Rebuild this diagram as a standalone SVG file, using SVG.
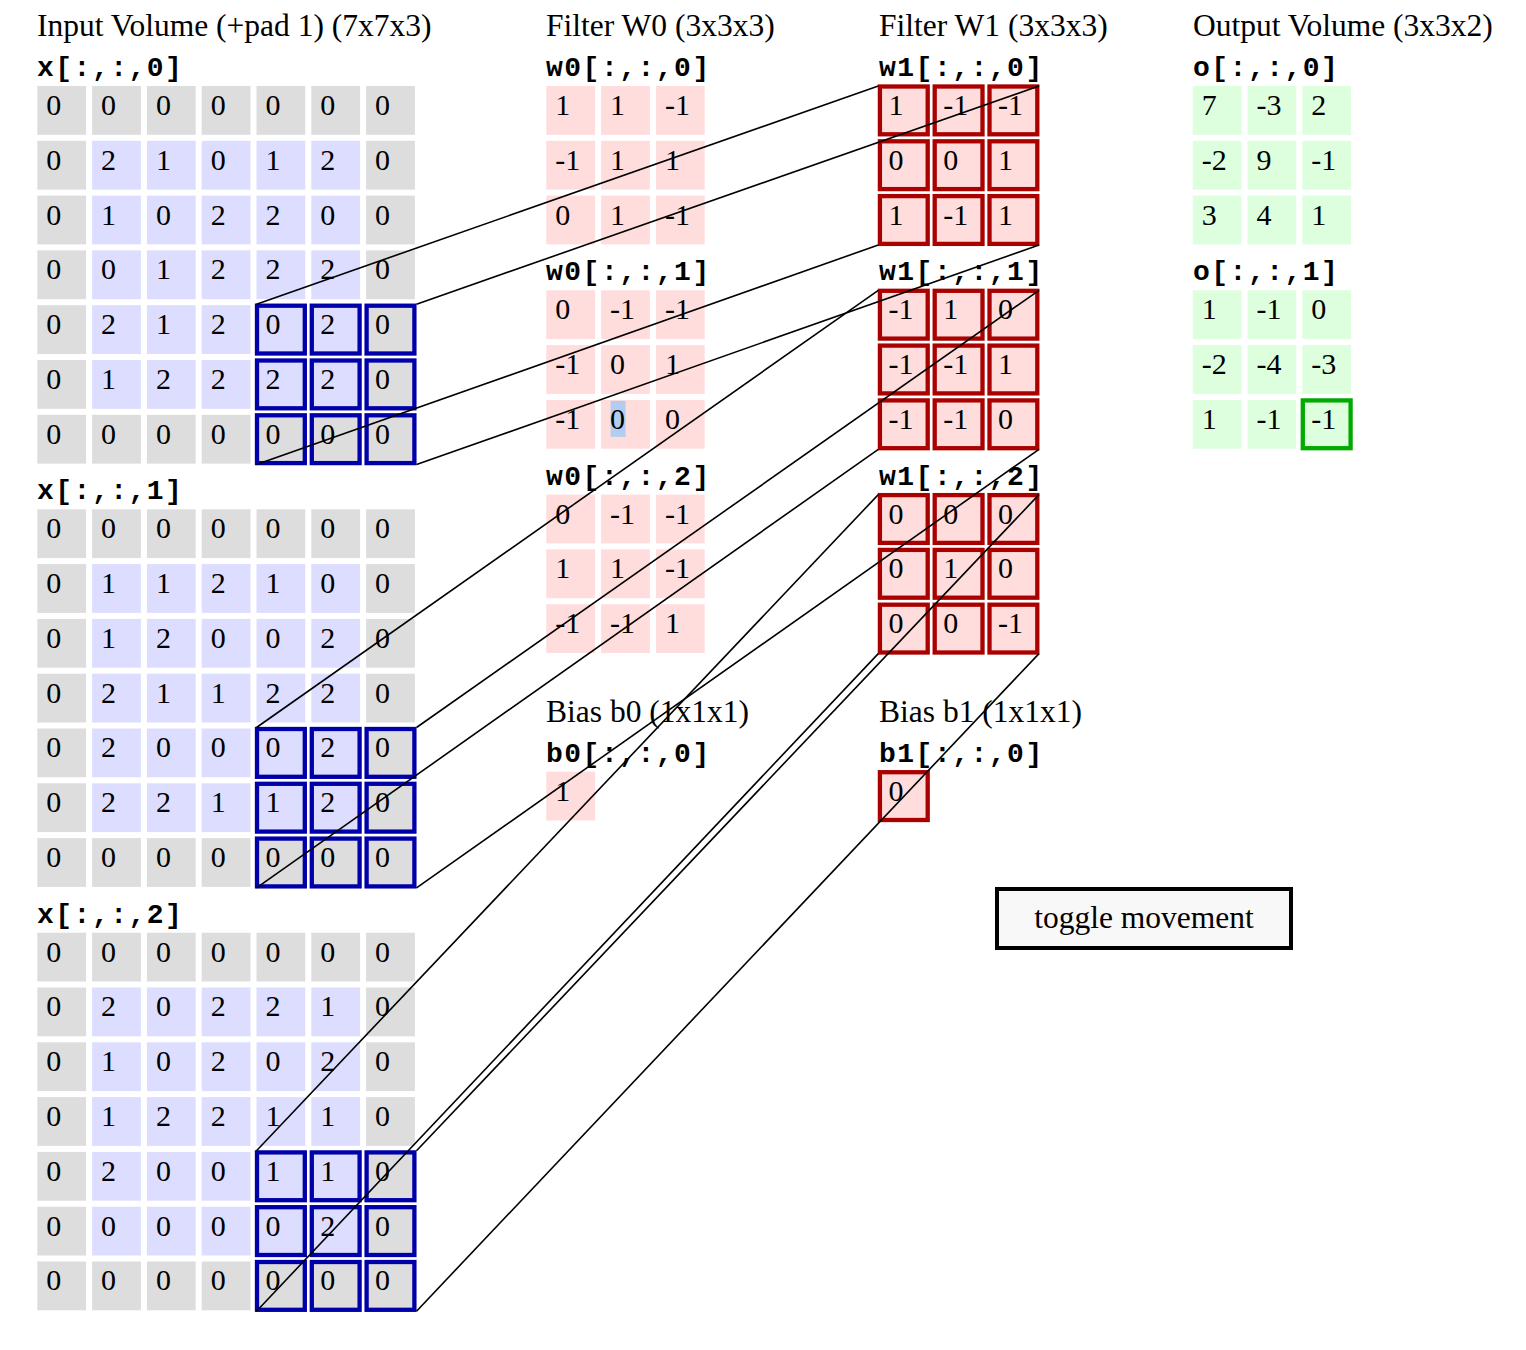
<svg xmlns="http://www.w3.org/2000/svg" width="1526" height="1350" viewBox="0 0 1526 1350">
<style>
text{font-family:"Liberation Serif","Times New Roman",serif;font-size:30px;fill:#000}
.h{font-size:31.5px}
.m{font-family:"Liberation Mono","Courier New",monospace;font-weight:bold;font-size:28px;letter-spacing:1.5px}
.p{fill:#dddddd}
.v{fill:#ddddff}
.w{fill:#ffdddd}
.o{fill:#ddffdd}
.hb{fill:none;stroke:#0000aa;stroke-width:4.3}
.hr{fill:none;stroke:#aa0000;stroke-width:4.3}
.hg{fill:none;stroke:#00aa00;stroke-width:4.3}
.c line{stroke:#000;stroke-width:1.6}
</style>
<rect width="1526" height="1350" fill="#fff"/>
<g id="titles">
<text class="h" x="37" y="36">Input Volume (+pad 1) (7x7x3)</text>
<text class="h" x="546" y="36">Filter W0 (3x3x3)</text>
<text class="h" x="879" y="36">Filter W1 (3x3x3)</text>
<text class="h" x="1193" y="36">Output Volume (3x3x2)</text>
<text class="h" x="546" y="721.7">Bias b0 (1x1x1)</text>
<text class="h" x="879" y="721.7">Bias b1 (1x1x1)</text>
<text class="m" x="37" y="76">x[:,:,0]</text>
<text class="m" x="37" y="499.3">x[:,:,1]</text>
<text class="m" x="37" y="922.7">x[:,:,2]</text>
<text class="m" x="546" y="76">w0[:,:,0]</text>
<text class="m" x="546" y="280.3">w0[:,:,1]</text>
<text class="m" x="546" y="484.6">w0[:,:,2]</text>
<text class="m" x="879" y="76">w1[:,:,0]</text>
<text class="m" x="879" y="280.3">w1[:,:,1]</text>
<text class="m" x="879" y="484.6">w1[:,:,2]</text>
<text class="m" x="1193" y="76">o[:,:,0]</text>
<text class="m" x="1193" y="280.3">o[:,:,1]</text>
<text class="m" x="546" y="761.7">b0[:,:,0]</text>
<text class="m" x="879" y="761.7">b1[:,:,0]</text>
</g>
<g id="x0" transform="translate(37.3,86)">
<rect class="p" x="0" y="0" width="48.8" height="48.8"/><rect class="p" x="54.8" y="0" width="48.8" height="48.8"/><rect class="p" x="109.6" y="0" width="48.8" height="48.8"/><rect class="p" x="164.4" y="0" width="48.8" height="48.8"/><rect class="p" x="219.2" y="0" width="48.8" height="48.8"/><rect class="p" x="274" y="0" width="48.8" height="48.8"/><rect class="p" x="328.8" y="0" width="48.8" height="48.8"/>
<rect class="p" x="0" y="54.8" width="48.8" height="48.8"/><rect class="v" x="54.8" y="54.8" width="48.8" height="48.8"/><rect class="v" x="109.6" y="54.8" width="48.8" height="48.8"/><rect class="v" x="164.4" y="54.8" width="48.8" height="48.8"/><rect class="v" x="219.2" y="54.8" width="48.8" height="48.8"/><rect class="v" x="274" y="54.8" width="48.8" height="48.8"/><rect class="p" x="328.8" y="54.8" width="48.8" height="48.8"/>
<rect class="p" x="0" y="109.6" width="48.8" height="48.8"/><rect class="v" x="54.8" y="109.6" width="48.8" height="48.8"/><rect class="v" x="109.6" y="109.6" width="48.8" height="48.8"/><rect class="v" x="164.4" y="109.6" width="48.8" height="48.8"/><rect class="v" x="219.2" y="109.6" width="48.8" height="48.8"/><rect class="v" x="274" y="109.6" width="48.8" height="48.8"/><rect class="p" x="328.8" y="109.6" width="48.8" height="48.8"/>
<rect class="p" x="0" y="164.4" width="48.8" height="48.8"/><rect class="v" x="54.8" y="164.4" width="48.8" height="48.8"/><rect class="v" x="109.6" y="164.4" width="48.8" height="48.8"/><rect class="v" x="164.4" y="164.4" width="48.8" height="48.8"/><rect class="v" x="219.2" y="164.4" width="48.8" height="48.8"/><rect class="v" x="274" y="164.4" width="48.8" height="48.8"/><rect class="p" x="328.8" y="164.4" width="48.8" height="48.8"/>
<rect class="p" x="0" y="219.2" width="48.8" height="48.8"/><rect class="v" x="54.8" y="219.2" width="48.8" height="48.8"/><rect class="v" x="109.6" y="219.2" width="48.8" height="48.8"/><rect class="v" x="164.4" y="219.2" width="48.8" height="48.8"/><rect class="v" x="219.2" y="219.2" width="48.8" height="48.8"/><rect class="v" x="274" y="219.2" width="48.8" height="48.8"/><rect class="p" x="328.8" y="219.2" width="48.8" height="48.8"/>
<rect class="p" x="0" y="274" width="48.8" height="48.8"/><rect class="v" x="54.8" y="274" width="48.8" height="48.8"/><rect class="v" x="109.6" y="274" width="48.8" height="48.8"/><rect class="v" x="164.4" y="274" width="48.8" height="48.8"/><rect class="v" x="219.2" y="274" width="48.8" height="48.8"/><rect class="v" x="274" y="274" width="48.8" height="48.8"/><rect class="p" x="328.8" y="274" width="48.8" height="48.8"/>
<rect class="p" x="0" y="328.8" width="48.8" height="48.8"/><rect class="p" x="54.8" y="328.8" width="48.8" height="48.8"/><rect class="p" x="109.6" y="328.8" width="48.8" height="48.8"/><rect class="p" x="164.4" y="328.8" width="48.8" height="48.8"/><rect class="p" x="219.2" y="328.8" width="48.8" height="48.8"/><rect class="p" x="274" y="328.8" width="48.8" height="48.8"/><rect class="p" x="328.8" y="328.8" width="48.8" height="48.8"/>
<rect class="hb" x="219.7" y="219.7" width="47.8" height="47.8"/><rect class="hb" x="274.5" y="219.7" width="47.8" height="47.8"/><rect class="hb" x="329.3" y="219.7" width="47.8" height="47.8"/>
<rect class="hb" x="219.7" y="274.5" width="47.8" height="47.8"/><rect class="hb" x="274.5" y="274.5" width="47.8" height="47.8"/><rect class="hb" x="329.3" y="274.5" width="47.8" height="47.8"/>
<rect class="hb" x="219.7" y="329.3" width="47.8" height="47.8"/><rect class="hb" x="274.5" y="329.3" width="47.8" height="47.8"/><rect class="hb" x="329.3" y="329.3" width="47.8" height="47.8"/>
<text x="9" y="29">0</text><text x="63.8" y="29">0</text><text x="118.6" y="29">0</text><text x="173.4" y="29">0</text><text x="228.2" y="29">0</text><text x="283" y="29">0</text><text x="337.8" y="29">0</text>
<text x="9" y="83.8">0</text><text x="63.8" y="83.8">2</text><text x="118.6" y="83.8">1</text><text x="173.4" y="83.8">0</text><text x="228.2" y="83.8">1</text><text x="283" y="83.8">2</text><text x="337.8" y="83.8">0</text>
<text x="9" y="138.6">0</text><text x="63.8" y="138.6">1</text><text x="118.6" y="138.6">0</text><text x="173.4" y="138.6">2</text><text x="228.2" y="138.6">2</text><text x="283" y="138.6">0</text><text x="337.8" y="138.6">0</text>
<text x="9" y="193.4">0</text><text x="63.8" y="193.4">0</text><text x="118.6" y="193.4">1</text><text x="173.4" y="193.4">2</text><text x="228.2" y="193.4">2</text><text x="283" y="193.4">2</text><text x="337.8" y="193.4">0</text>
<text x="9" y="248.2">0</text><text x="63.8" y="248.2">2</text><text x="118.6" y="248.2">1</text><text x="173.4" y="248.2">2</text><text x="228.2" y="248.2">0</text><text x="283" y="248.2">2</text><text x="337.8" y="248.2">0</text>
<text x="9" y="303">0</text><text x="63.8" y="303">1</text><text x="118.6" y="303">2</text><text x="173.4" y="303">2</text><text x="228.2" y="303">2</text><text x="283" y="303">2</text><text x="337.8" y="303">0</text>
<text x="9" y="357.8">0</text><text x="63.8" y="357.8">0</text><text x="118.6" y="357.8">0</text><text x="173.4" y="357.8">0</text><text x="228.2" y="357.8">0</text><text x="283" y="357.8">0</text><text x="337.8" y="357.8">0</text>
</g>
<g id="x1" transform="translate(37.3,509.3)">
<rect class="p" x="0" y="0" width="48.8" height="48.8"/><rect class="p" x="54.8" y="0" width="48.8" height="48.8"/><rect class="p" x="109.6" y="0" width="48.8" height="48.8"/><rect class="p" x="164.4" y="0" width="48.8" height="48.8"/><rect class="p" x="219.2" y="0" width="48.8" height="48.8"/><rect class="p" x="274" y="0" width="48.8" height="48.8"/><rect class="p" x="328.8" y="0" width="48.8" height="48.8"/>
<rect class="p" x="0" y="54.8" width="48.8" height="48.8"/><rect class="v" x="54.8" y="54.8" width="48.8" height="48.8"/><rect class="v" x="109.6" y="54.8" width="48.8" height="48.8"/><rect class="v" x="164.4" y="54.8" width="48.8" height="48.8"/><rect class="v" x="219.2" y="54.8" width="48.8" height="48.8"/><rect class="v" x="274" y="54.8" width="48.8" height="48.8"/><rect class="p" x="328.8" y="54.8" width="48.8" height="48.8"/>
<rect class="p" x="0" y="109.6" width="48.8" height="48.8"/><rect class="v" x="54.8" y="109.6" width="48.8" height="48.8"/><rect class="v" x="109.6" y="109.6" width="48.8" height="48.8"/><rect class="v" x="164.4" y="109.6" width="48.8" height="48.8"/><rect class="v" x="219.2" y="109.6" width="48.8" height="48.8"/><rect class="v" x="274" y="109.6" width="48.8" height="48.8"/><rect class="p" x="328.8" y="109.6" width="48.8" height="48.8"/>
<rect class="p" x="0" y="164.4" width="48.8" height="48.8"/><rect class="v" x="54.8" y="164.4" width="48.8" height="48.8"/><rect class="v" x="109.6" y="164.4" width="48.8" height="48.8"/><rect class="v" x="164.4" y="164.4" width="48.8" height="48.8"/><rect class="v" x="219.2" y="164.4" width="48.8" height="48.8"/><rect class="v" x="274" y="164.4" width="48.8" height="48.8"/><rect class="p" x="328.8" y="164.4" width="48.8" height="48.8"/>
<rect class="p" x="0" y="219.2" width="48.8" height="48.8"/><rect class="v" x="54.8" y="219.2" width="48.8" height="48.8"/><rect class="v" x="109.6" y="219.2" width="48.8" height="48.8"/><rect class="v" x="164.4" y="219.2" width="48.8" height="48.8"/><rect class="v" x="219.2" y="219.2" width="48.8" height="48.8"/><rect class="v" x="274" y="219.2" width="48.8" height="48.8"/><rect class="p" x="328.8" y="219.2" width="48.8" height="48.8"/>
<rect class="p" x="0" y="274" width="48.8" height="48.8"/><rect class="v" x="54.8" y="274" width="48.8" height="48.8"/><rect class="v" x="109.6" y="274" width="48.8" height="48.8"/><rect class="v" x="164.4" y="274" width="48.8" height="48.8"/><rect class="v" x="219.2" y="274" width="48.8" height="48.8"/><rect class="v" x="274" y="274" width="48.8" height="48.8"/><rect class="p" x="328.8" y="274" width="48.8" height="48.8"/>
<rect class="p" x="0" y="328.8" width="48.8" height="48.8"/><rect class="p" x="54.8" y="328.8" width="48.8" height="48.8"/><rect class="p" x="109.6" y="328.8" width="48.8" height="48.8"/><rect class="p" x="164.4" y="328.8" width="48.8" height="48.8"/><rect class="p" x="219.2" y="328.8" width="48.8" height="48.8"/><rect class="p" x="274" y="328.8" width="48.8" height="48.8"/><rect class="p" x="328.8" y="328.8" width="48.8" height="48.8"/>
<rect class="hb" x="219.7" y="219.7" width="47.8" height="47.8"/><rect class="hb" x="274.5" y="219.7" width="47.8" height="47.8"/><rect class="hb" x="329.3" y="219.7" width="47.8" height="47.8"/>
<rect class="hb" x="219.7" y="274.5" width="47.8" height="47.8"/><rect class="hb" x="274.5" y="274.5" width="47.8" height="47.8"/><rect class="hb" x="329.3" y="274.5" width="47.8" height="47.8"/>
<rect class="hb" x="219.7" y="329.3" width="47.8" height="47.8"/><rect class="hb" x="274.5" y="329.3" width="47.8" height="47.8"/><rect class="hb" x="329.3" y="329.3" width="47.8" height="47.8"/>
<text x="9" y="29">0</text><text x="63.8" y="29">0</text><text x="118.6" y="29">0</text><text x="173.4" y="29">0</text><text x="228.2" y="29">0</text><text x="283" y="29">0</text><text x="337.8" y="29">0</text>
<text x="9" y="83.8">0</text><text x="63.8" y="83.8">1</text><text x="118.6" y="83.8">1</text><text x="173.4" y="83.8">2</text><text x="228.2" y="83.8">1</text><text x="283" y="83.8">0</text><text x="337.8" y="83.8">0</text>
<text x="9" y="138.6">0</text><text x="63.8" y="138.6">1</text><text x="118.6" y="138.6">2</text><text x="173.4" y="138.6">0</text><text x="228.2" y="138.6">0</text><text x="283" y="138.6">2</text><text x="337.8" y="138.6">0</text>
<text x="9" y="193.4">0</text><text x="63.8" y="193.4">2</text><text x="118.6" y="193.4">1</text><text x="173.4" y="193.4">1</text><text x="228.2" y="193.4">2</text><text x="283" y="193.4">2</text><text x="337.8" y="193.4">0</text>
<text x="9" y="248.2">0</text><text x="63.8" y="248.2">2</text><text x="118.6" y="248.2">0</text><text x="173.4" y="248.2">0</text><text x="228.2" y="248.2">0</text><text x="283" y="248.2">2</text><text x="337.8" y="248.2">0</text>
<text x="9" y="303">0</text><text x="63.8" y="303">2</text><text x="118.6" y="303">2</text><text x="173.4" y="303">1</text><text x="228.2" y="303">1</text><text x="283" y="303">2</text><text x="337.8" y="303">0</text>
<text x="9" y="357.8">0</text><text x="63.8" y="357.8">0</text><text x="118.6" y="357.8">0</text><text x="173.4" y="357.8">0</text><text x="228.2" y="357.8">0</text><text x="283" y="357.8">0</text><text x="337.8" y="357.8">0</text>
</g>
<g id="x2" transform="translate(37.3,932.7)">
<rect class="p" x="0" y="0" width="48.8" height="48.8"/><rect class="p" x="54.8" y="0" width="48.8" height="48.8"/><rect class="p" x="109.6" y="0" width="48.8" height="48.8"/><rect class="p" x="164.4" y="0" width="48.8" height="48.8"/><rect class="p" x="219.2" y="0" width="48.8" height="48.8"/><rect class="p" x="274" y="0" width="48.8" height="48.8"/><rect class="p" x="328.8" y="0" width="48.8" height="48.8"/>
<rect class="p" x="0" y="54.8" width="48.8" height="48.8"/><rect class="v" x="54.8" y="54.8" width="48.8" height="48.8"/><rect class="v" x="109.6" y="54.8" width="48.8" height="48.8"/><rect class="v" x="164.4" y="54.8" width="48.8" height="48.8"/><rect class="v" x="219.2" y="54.8" width="48.8" height="48.8"/><rect class="v" x="274" y="54.8" width="48.8" height="48.8"/><rect class="p" x="328.8" y="54.8" width="48.8" height="48.8"/>
<rect class="p" x="0" y="109.6" width="48.8" height="48.8"/><rect class="v" x="54.8" y="109.6" width="48.8" height="48.8"/><rect class="v" x="109.6" y="109.6" width="48.8" height="48.8"/><rect class="v" x="164.4" y="109.6" width="48.8" height="48.8"/><rect class="v" x="219.2" y="109.6" width="48.8" height="48.8"/><rect class="v" x="274" y="109.6" width="48.8" height="48.8"/><rect class="p" x="328.8" y="109.6" width="48.8" height="48.8"/>
<rect class="p" x="0" y="164.4" width="48.8" height="48.8"/><rect class="v" x="54.8" y="164.4" width="48.8" height="48.8"/><rect class="v" x="109.6" y="164.4" width="48.8" height="48.8"/><rect class="v" x="164.4" y="164.4" width="48.8" height="48.8"/><rect class="v" x="219.2" y="164.4" width="48.8" height="48.8"/><rect class="v" x="274" y="164.4" width="48.8" height="48.8"/><rect class="p" x="328.8" y="164.4" width="48.8" height="48.8"/>
<rect class="p" x="0" y="219.2" width="48.8" height="48.8"/><rect class="v" x="54.8" y="219.2" width="48.8" height="48.8"/><rect class="v" x="109.6" y="219.2" width="48.8" height="48.8"/><rect class="v" x="164.4" y="219.2" width="48.8" height="48.8"/><rect class="v" x="219.2" y="219.2" width="48.8" height="48.8"/><rect class="v" x="274" y="219.2" width="48.8" height="48.8"/><rect class="p" x="328.8" y="219.2" width="48.8" height="48.8"/>
<rect class="p" x="0" y="274" width="48.8" height="48.8"/><rect class="v" x="54.8" y="274" width="48.8" height="48.8"/><rect class="v" x="109.6" y="274" width="48.8" height="48.8"/><rect class="v" x="164.4" y="274" width="48.8" height="48.8"/><rect class="v" x="219.2" y="274" width="48.8" height="48.8"/><rect class="v" x="274" y="274" width="48.8" height="48.8"/><rect class="p" x="328.8" y="274" width="48.8" height="48.8"/>
<rect class="p" x="0" y="328.8" width="48.8" height="48.8"/><rect class="p" x="54.8" y="328.8" width="48.8" height="48.8"/><rect class="p" x="109.6" y="328.8" width="48.8" height="48.8"/><rect class="p" x="164.4" y="328.8" width="48.8" height="48.8"/><rect class="p" x="219.2" y="328.8" width="48.8" height="48.8"/><rect class="p" x="274" y="328.8" width="48.8" height="48.8"/><rect class="p" x="328.8" y="328.8" width="48.8" height="48.8"/>
<rect class="hb" x="219.7" y="219.7" width="47.8" height="47.8"/><rect class="hb" x="274.5" y="219.7" width="47.8" height="47.8"/><rect class="hb" x="329.3" y="219.7" width="47.8" height="47.8"/>
<rect class="hb" x="219.7" y="274.5" width="47.8" height="47.8"/><rect class="hb" x="274.5" y="274.5" width="47.8" height="47.8"/><rect class="hb" x="329.3" y="274.5" width="47.8" height="47.8"/>
<rect class="hb" x="219.7" y="329.3" width="47.8" height="47.8"/><rect class="hb" x="274.5" y="329.3" width="47.8" height="47.8"/><rect class="hb" x="329.3" y="329.3" width="47.8" height="47.8"/>
<text x="9" y="29">0</text><text x="63.8" y="29">0</text><text x="118.6" y="29">0</text><text x="173.4" y="29">0</text><text x="228.2" y="29">0</text><text x="283" y="29">0</text><text x="337.8" y="29">0</text>
<text x="9" y="83.8">0</text><text x="63.8" y="83.8">2</text><text x="118.6" y="83.8">0</text><text x="173.4" y="83.8">2</text><text x="228.2" y="83.8">2</text><text x="283" y="83.8">1</text><text x="337.8" y="83.8">0</text>
<text x="9" y="138.6">0</text><text x="63.8" y="138.6">1</text><text x="118.6" y="138.6">0</text><text x="173.4" y="138.6">2</text><text x="228.2" y="138.6">0</text><text x="283" y="138.6">2</text><text x="337.8" y="138.6">0</text>
<text x="9" y="193.4">0</text><text x="63.8" y="193.4">1</text><text x="118.6" y="193.4">2</text><text x="173.4" y="193.4">2</text><text x="228.2" y="193.4">1</text><text x="283" y="193.4">1</text><text x="337.8" y="193.4">0</text>
<text x="9" y="248.2">0</text><text x="63.8" y="248.2">2</text><text x="118.6" y="248.2">0</text><text x="173.4" y="248.2">0</text><text x="228.2" y="248.2">1</text><text x="283" y="248.2">1</text><text x="337.8" y="248.2">0</text>
<text x="9" y="303">0</text><text x="63.8" y="303">0</text><text x="118.6" y="303">0</text><text x="173.4" y="303">0</text><text x="228.2" y="303">0</text><text x="283" y="303">2</text><text x="337.8" y="303">0</text>
<text x="9" y="357.8">0</text><text x="63.8" y="357.8">0</text><text x="118.6" y="357.8">0</text><text x="173.4" y="357.8">0</text><text x="228.2" y="357.8">0</text><text x="283" y="357.8">0</text><text x="337.8" y="357.8">0</text>
</g>
<g id="w0-0" transform="translate(546.3,86)">
<rect class="w" x="0" y="0" width="48.8" height="48.8"/><rect class="w" x="54.8" y="0" width="48.8" height="48.8"/><rect class="w" x="109.6" y="0" width="48.8" height="48.8"/>
<rect class="w" x="0" y="54.8" width="48.8" height="48.8"/><rect class="w" x="54.8" y="54.8" width="48.8" height="48.8"/><rect class="w" x="109.6" y="54.8" width="48.8" height="48.8"/>
<rect class="w" x="0" y="109.6" width="48.8" height="48.8"/><rect class="w" x="54.8" y="109.6" width="48.8" height="48.8"/><rect class="w" x="109.6" y="109.6" width="48.8" height="48.8"/>
<text x="9" y="29">1</text><text x="63.8" y="29">1</text><text x="118.6" y="29">-1</text>
<text x="9" y="83.8">-1</text><text x="63.8" y="83.8">1</text><text x="118.6" y="83.8">1</text>
<text x="9" y="138.6">0</text><text x="63.8" y="138.6">1</text><text x="118.6" y="138.6">-1</text>
</g>
<g id="w0-1" transform="translate(546.3,290.3)">
<rect class="w" x="0" y="0" width="48.8" height="48.8"/><rect class="w" x="54.8" y="0" width="48.8" height="48.8"/><rect class="w" x="109.6" y="0" width="48.8" height="48.8"/>
<rect class="w" x="0" y="54.8" width="48.8" height="48.8"/><rect class="w" x="54.8" y="54.8" width="48.8" height="48.8"/><rect class="w" x="109.6" y="54.8" width="48.8" height="48.8"/>
<rect class="w" x="0" y="109.6" width="48.8" height="48.8"/><rect class="w" x="54.8" y="109.6" width="48.8" height="48.8"/><rect class="w" x="109.6" y="109.6" width="48.8" height="48.8"/>
<rect x="64.3" y="110.6" width="15" height="36" fill="#b3cdf2"/>
<text x="9" y="29">0</text><text x="63.8" y="29">-1</text><text x="118.6" y="29">-1</text>
<text x="9" y="83.8">-1</text><text x="63.8" y="83.8">0</text><text x="118.6" y="83.8">1</text>
<text x="9" y="138.6">-1</text><text x="63.8" y="138.6">0</text><text x="118.6" y="138.6">0</text>
</g>
<g id="w0-2" transform="translate(546.3,494.6)">
<rect class="w" x="0" y="0" width="48.8" height="48.8"/><rect class="w" x="54.8" y="0" width="48.8" height="48.8"/><rect class="w" x="109.6" y="0" width="48.8" height="48.8"/>
<rect class="w" x="0" y="54.8" width="48.8" height="48.8"/><rect class="w" x="54.8" y="54.8" width="48.8" height="48.8"/><rect class="w" x="109.6" y="54.8" width="48.8" height="48.8"/>
<rect class="w" x="0" y="109.6" width="48.8" height="48.8"/><rect class="w" x="54.8" y="109.6" width="48.8" height="48.8"/><rect class="w" x="109.6" y="109.6" width="48.8" height="48.8"/>
<text x="9" y="29">0</text><text x="63.8" y="29">-1</text><text x="118.6" y="29">-1</text>
<text x="9" y="83.8">1</text><text x="63.8" y="83.8">1</text><text x="118.6" y="83.8">-1</text>
<text x="9" y="138.6">-1</text><text x="63.8" y="138.6">-1</text><text x="118.6" y="138.6">1</text>
</g>
<g id="w1-0" transform="translate(879.4,86)">
<rect class="w" x="0" y="0" width="48.8" height="48.8"/><rect class="w" x="54.8" y="0" width="48.8" height="48.8"/><rect class="w" x="109.6" y="0" width="48.8" height="48.8"/>
<rect class="w" x="0" y="54.8" width="48.8" height="48.8"/><rect class="w" x="54.8" y="54.8" width="48.8" height="48.8"/><rect class="w" x="109.6" y="54.8" width="48.8" height="48.8"/>
<rect class="w" x="0" y="109.6" width="48.8" height="48.8"/><rect class="w" x="54.8" y="109.6" width="48.8" height="48.8"/><rect class="w" x="109.6" y="109.6" width="48.8" height="48.8"/>
<rect class="hr" x="0.5" y="0.5" width="47.8" height="47.8"/><rect class="hr" x="55.3" y="0.5" width="47.8" height="47.8"/><rect class="hr" x="110.1" y="0.5" width="47.8" height="47.8"/>
<rect class="hr" x="0.5" y="55.3" width="47.8" height="47.8"/><rect class="hr" x="55.3" y="55.3" width="47.8" height="47.8"/><rect class="hr" x="110.1" y="55.3" width="47.8" height="47.8"/>
<rect class="hr" x="0.5" y="110.1" width="47.8" height="47.8"/><rect class="hr" x="55.3" y="110.1" width="47.8" height="47.8"/><rect class="hr" x="110.1" y="110.1" width="47.8" height="47.8"/>
<text x="9" y="29">1</text><text x="63.8" y="29">-1</text><text x="118.6" y="29">-1</text>
<text x="9" y="83.8">0</text><text x="63.8" y="83.8">0</text><text x="118.6" y="83.8">1</text>
<text x="9" y="138.6">1</text><text x="63.8" y="138.6">-1</text><text x="118.6" y="138.6">1</text>
</g>
<g id="w1-1" transform="translate(879.4,290.3)">
<rect class="w" x="0" y="0" width="48.8" height="48.8"/><rect class="w" x="54.8" y="0" width="48.8" height="48.8"/><rect class="w" x="109.6" y="0" width="48.8" height="48.8"/>
<rect class="w" x="0" y="54.8" width="48.8" height="48.8"/><rect class="w" x="54.8" y="54.8" width="48.8" height="48.8"/><rect class="w" x="109.6" y="54.8" width="48.8" height="48.8"/>
<rect class="w" x="0" y="109.6" width="48.8" height="48.8"/><rect class="w" x="54.8" y="109.6" width="48.8" height="48.8"/><rect class="w" x="109.6" y="109.6" width="48.8" height="48.8"/>
<rect class="hr" x="0.5" y="0.5" width="47.8" height="47.8"/><rect class="hr" x="55.3" y="0.5" width="47.8" height="47.8"/><rect class="hr" x="110.1" y="0.5" width="47.8" height="47.8"/>
<rect class="hr" x="0.5" y="55.3" width="47.8" height="47.8"/><rect class="hr" x="55.3" y="55.3" width="47.8" height="47.8"/><rect class="hr" x="110.1" y="55.3" width="47.8" height="47.8"/>
<rect class="hr" x="0.5" y="110.1" width="47.8" height="47.8"/><rect class="hr" x="55.3" y="110.1" width="47.8" height="47.8"/><rect class="hr" x="110.1" y="110.1" width="47.8" height="47.8"/>
<text x="9" y="29">-1</text><text x="63.8" y="29">1</text><text x="118.6" y="29">0</text>
<text x="9" y="83.8">-1</text><text x="63.8" y="83.8">-1</text><text x="118.6" y="83.8">1</text>
<text x="9" y="138.6">-1</text><text x="63.8" y="138.6">-1</text><text x="118.6" y="138.6">0</text>
</g>
<g id="w1-2" transform="translate(879.4,494.6)">
<rect class="w" x="0" y="0" width="48.8" height="48.8"/><rect class="w" x="54.8" y="0" width="48.8" height="48.8"/><rect class="w" x="109.6" y="0" width="48.8" height="48.8"/>
<rect class="w" x="0" y="54.8" width="48.8" height="48.8"/><rect class="w" x="54.8" y="54.8" width="48.8" height="48.8"/><rect class="w" x="109.6" y="54.8" width="48.8" height="48.8"/>
<rect class="w" x="0" y="109.6" width="48.8" height="48.8"/><rect class="w" x="54.8" y="109.6" width="48.8" height="48.8"/><rect class="w" x="109.6" y="109.6" width="48.8" height="48.8"/>
<rect class="hr" x="0.5" y="0.5" width="47.8" height="47.8"/><rect class="hr" x="55.3" y="0.5" width="47.8" height="47.8"/><rect class="hr" x="110.1" y="0.5" width="47.8" height="47.8"/>
<rect class="hr" x="0.5" y="55.3" width="47.8" height="47.8"/><rect class="hr" x="55.3" y="55.3" width="47.8" height="47.8"/><rect class="hr" x="110.1" y="55.3" width="47.8" height="47.8"/>
<rect class="hr" x="0.5" y="110.1" width="47.8" height="47.8"/><rect class="hr" x="55.3" y="110.1" width="47.8" height="47.8"/><rect class="hr" x="110.1" y="110.1" width="47.8" height="47.8"/>
<text x="9" y="29">0</text><text x="63.8" y="29">0</text><text x="118.6" y="29">0</text>
<text x="9" y="83.8">0</text><text x="63.8" y="83.8">1</text><text x="118.6" y="83.8">0</text>
<text x="9" y="138.6">0</text><text x="63.8" y="138.6">0</text><text x="118.6" y="138.6">-1</text>
</g>
<g id="b0" transform="translate(546.3,771.7)">
<rect class="w" x="0" y="0" width="48.8" height="48.8"/>
<text x="9" y="29">1</text>
</g>
<g id="b1" transform="translate(879.4,771.7)">
<rect class="w" x="0" y="0" width="48.8" height="48.8"/>
<rect class="hr" x="0.5" y="0.5" width="47.8" height="47.8"/>
<text x="9" y="29">0</text>
</g>
<g id="o0" transform="translate(1192.7,86)">
<rect class="o" x="0" y="0" width="48.8" height="48.8"/><rect class="o" x="54.8" y="0" width="48.8" height="48.8"/><rect class="o" x="109.6" y="0" width="48.8" height="48.8"/>
<rect class="o" x="0" y="54.8" width="48.8" height="48.8"/><rect class="o" x="54.8" y="54.8" width="48.8" height="48.8"/><rect class="o" x="109.6" y="54.8" width="48.8" height="48.8"/>
<rect class="o" x="0" y="109.6" width="48.8" height="48.8"/><rect class="o" x="54.8" y="109.6" width="48.8" height="48.8"/><rect class="o" x="109.6" y="109.6" width="48.8" height="48.8"/>
<text x="9" y="29">7</text><text x="63.8" y="29">-3</text><text x="118.6" y="29">2</text>
<text x="9" y="83.8">-2</text><text x="63.8" y="83.8">9</text><text x="118.6" y="83.8">-1</text>
<text x="9" y="138.6">3</text><text x="63.8" y="138.6">4</text><text x="118.6" y="138.6">1</text>
</g>
<g id="o1" transform="translate(1192.7,290.3)">
<rect class="o" x="0" y="0" width="48.8" height="48.8"/><rect class="o" x="54.8" y="0" width="48.8" height="48.8"/><rect class="o" x="109.6" y="0" width="48.8" height="48.8"/>
<rect class="o" x="0" y="54.8" width="48.8" height="48.8"/><rect class="o" x="54.8" y="54.8" width="48.8" height="48.8"/><rect class="o" x="109.6" y="54.8" width="48.8" height="48.8"/>
<rect class="o" x="0" y="109.6" width="48.8" height="48.8"/><rect class="o" x="54.8" y="109.6" width="48.8" height="48.8"/><rect class="o" x="109.6" y="109.6" width="48.8" height="48.8"/>
<rect class="hg" x="110.1" y="110.1" width="47.8" height="47.8"/>
<text x="9" y="29">1</text><text x="63.8" y="29">-1</text><text x="118.6" y="29">0</text>
<text x="9" y="83.8">-2</text><text x="63.8" y="83.8">-4</text><text x="118.6" y="83.8">-3</text>
<text x="9" y="138.6">1</text><text x="63.8" y="138.6">-1</text><text x="118.6" y="138.6">-1</text>
</g>
<g id="toggle">
<rect x="997" y="889" width="294" height="59" fill="#f8f8f8" stroke="#000" stroke-width="4"/>
<text class="h" x="1144" y="928" text-anchor="middle">toggle movement</text>
</g>
<g id="connectors" class="c">
<line x1="256.5" y1="304.2" x2="878.3" y2="86"/>
<line x1="416.5" y1="304.2" x2="1039" y2="86"/>
<line x1="256.5" y1="464.6" x2="878.3" y2="245"/>
<line x1="416.5" y1="464.6" x2="1039" y2="245"/>
<line x1="256.5" y1="727.5" x2="878.3" y2="290.3"/>
<line x1="416.5" y1="727.5" x2="1039" y2="290.3"/>
<line x1="256.5" y1="887.9" x2="878.3" y2="449.3"/>
<line x1="416.5" y1="887.9" x2="1039" y2="449.3"/>
<line x1="256.5" y1="1150.8" x2="878.3" y2="494.6"/>
<line x1="416.5" y1="1150.8" x2="1039" y2="494.6"/>
<line x1="256.5" y1="1311.2" x2="878.3" y2="653.6"/>
<line x1="416.5" y1="1311.2" x2="1039" y2="653.6"/>
</g>
</svg>
